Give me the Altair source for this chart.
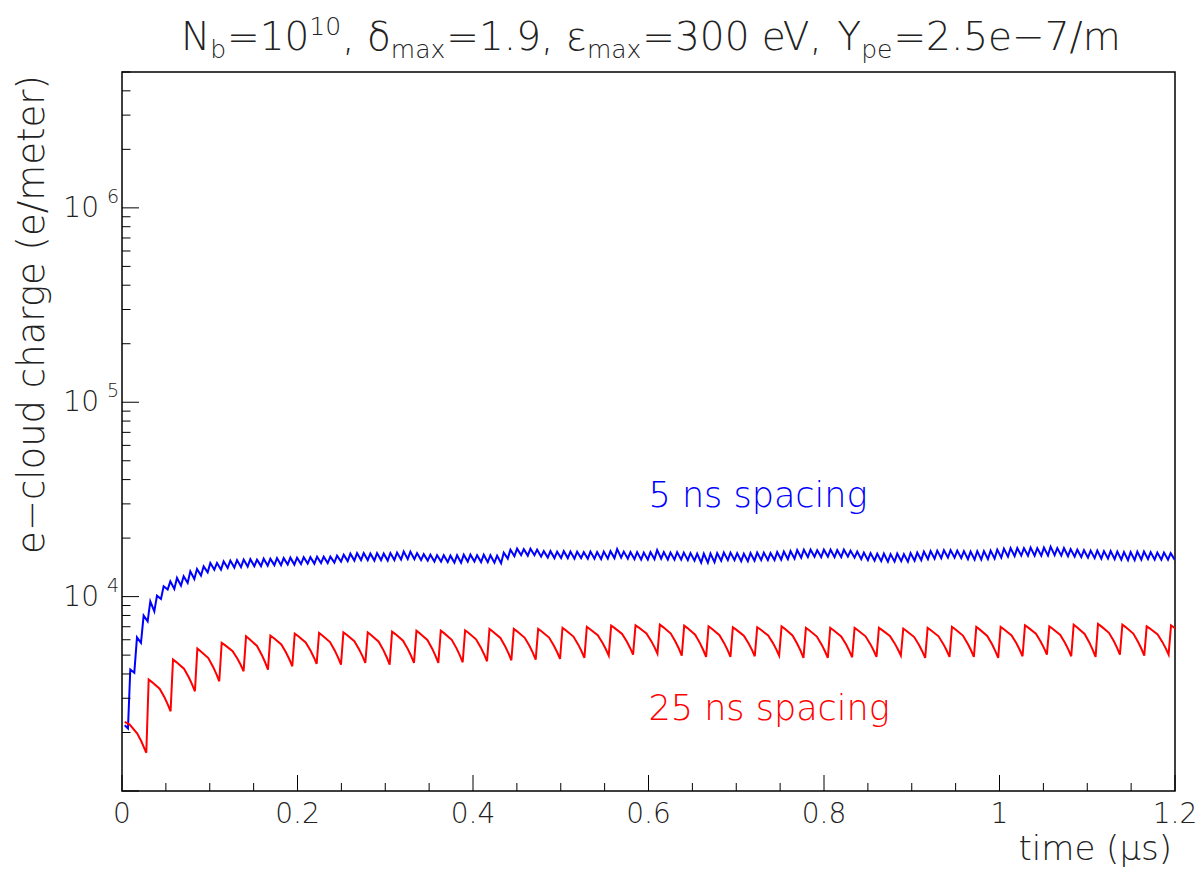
import math
import altair as alt
import pandas as pd

# ---------------- data ----------------
X_DOMAIN = [0.0, 1.2]
Y_DOMAIN = [1e3, 5e6]

# 25 ns spacing (red): decay before first bunch, then one tooth per bunch
RED_START_T = [0.0031, 0.0088, 0.0174, 0.0220, 0.0277]
RED_START_V = [2269, 2197, 1975, 1803, 1572]
RED_T0 = 0.0304        # time of first bunch (us)
RED_PERIOD = 0.02774   # bunch period as drawn (us)
RED_PEAK = [3743, 4745, 5402, 5781, 6249, 6301, 6452, 6506, 6551, 6551, 6607,
            6687, 6687, 6710, 6822, 6822, 6822, 6904, 6986, 7094, 7119, 7178,
            7094, 7035, 6954, 6954, 7035, 6904, 6904, 6904, 6904, 6847, 6904,
            6986, 6986, 6986, 7119, 7035, 7178, 7238, 7178, 7035, 7119]
RED_BOTTOM = [2572, 3259, 3668, 4130, 4214, 4382, 4508, 4471, 4561, 4471, 4561,
              4561, 4594, 4650, 4705, 4745, 4784, 4841, 4975, 5034, 5093, 4975,
              4898, 4898, 4934, 4975, 4841, 4841, 4875, 4898, 4975, 4841, 4898,
              4898, 4841, 4934, 5034, 4934, 4898, 5034, 4975, 5034, 4975]
# shape of one tooth (fraction of decay time, fraction of log drop)
TOOTH_T = [0.0, 0.15, 0.5, 0.72, 0.87, 1.0]
TOOTH_F = [0.0, 0.08, 0.29, 0.56, 0.78, 1.0]
TOOTH_DECAY = 0.9      # part of the period spent decaying

# 5 ns spacing (blue)
BLUE_START_T = [0.0031, 0.0068]
BLUE_START_V = [2179, 2096]
BLUE_T0 = 0.00946
BLUE_PERIOD = 0.0076
BLUE_TROUGH_AT = 0.6
BLUE_PEAK = [4214, 6175, 7987, 9458, 10118, 11298, 11987, 12478, 12719, 13494, 13881, 14316, 14906, 14906, 15190,
             15320, 15410, 15500, 15590, 15500, 15680, 15680, 15780, 15780, 15870, 15870, 15960, 15960, 16060, 16060,
             16060, 16250, 16440, 16640, 16740, 16740, 16640, 16740, 16640, 16740, 16840, 17040, 17040, 16740, 16540,
             16440, 16340, 16340, 16250, 16340, 16440, 16440, 16340, 16440, 16340, 16250, 16840, 17440, 17650, 17550,
             17650, 17440, 17140, 17140, 17040, 17140, 17040, 17040, 16940, 17040, 16940, 17040, 17140, 17550, 17040,
             16940, 16940, 16840, 16940, 17340, 16940, 16840, 16940, 16840, 16740, 16640, 16640, 16640, 16740, 16840,
             16840, 16740, 16640, 16740, 16840, 16840, 16740, 16940, 17040, 17140, 17340, 17440, 17440, 17340, 17440,
             17440, 17340, 17440, 17240, 17040, 16840, 16740, 16640, 16640, 16540, 16640, 16540, 16740, 16840, 17040,
             17140, 17240, 17340, 17340, 17240, 17140, 17040, 17140, 17140, 17240, 17440, 17650, 17760, 17760, 17760,
             17860, 17760, 17860, 18070, 17760, 17760, 17550, 17440, 17340, 17240, 17240, 17140, 17140, 17040, 16940,
             16940, 17040, 17040, 16940, 16840, 16840, 16740]
BLUE_TROUGH = [4053, 5781, 7464, 8404, 9732, 10864, 10955, 11390, 11760, 12331, 12823, 13333, 13766, 13766, 14050,
               14100, 14180, 14270, 14350, 14350, 14430, 14520, 14520, 14610, 14610, 14700, 14780, 14780, 14870, 14870,
               14960, 15140, 15230, 15320, 15410, 15410, 15320, 15410, 15320, 15410, 15500, 15590, 15590, 15410, 15320,
               15140, 15140, 15050, 14960, 14960, 15140, 15140, 15050, 15050, 14960, 14870, 15680, 16150, 16340, 16250,
               16340, 16060, 15870, 15780, 15780, 15780, 15680, 15780, 15680, 15680, 15590, 15680, 15780, 15870, 15680,
               15590, 15500, 15500, 15590, 15680, 15500, 15500, 15500, 15410, 15320, 14960, 14960, 15050, 15320, 15410,
               15410, 15230, 15230, 15320, 15410, 15410, 15410, 15500, 15590, 15680, 15870, 15960, 16060, 15960, 16060,
               15960, 15960, 16060, 15870, 15590, 15410, 15320, 15230, 15140, 15140, 15230, 15140, 15320, 15410, 15590,
               15680, 15780, 15870, 15870, 15780, 15590, 15500, 15500, 15590, 15680, 15870, 16060, 16150, 16250, 16250,
               16250, 16250, 16250, 16340, 16250, 16150, 16060, 15960, 15870, 15780, 15680, 15680, 15590, 15500, 15410,
               15410, 15500, 15590, 15500, 15500, 15500, 15500]

X_MAJOR = [0, 0.2, 0.4, 0.6, 0.8, 1.0, 1.2]
X_LABELS = ["0", "0.2", "0.4", "0.6", "0.8", "1", "1.2"]
X_MINOR = [0.05, 0.1, 0.15, 0.25, 0.3, 0.35, 0.45, 0.5, 0.55, 0.65, 0.7, 0.75,
           0.85, 0.9, 0.95, 1.05, 1.1, 1.15]
Y_MAJOR = [1e3, 1e4, 1e5, 1e6]
Y_LABELED = [1e4, 1e5, 1e6]
Y_EXPONENTS = ["4", "5", "6"]
Y_MINOR = [m * 10 ** d for d in (3, 4, 5, 6) for m in range(2, 10) if m * 10 ** d <= 5e6]

ANNOT_TEXT = ["5 ns spacing", "25 ns spacing"]
ANNOT_T = [0.6, 0.6]
ANNOT_V = [2.9e4, 2.33e3]
ANNOT_COLOR = ["#0000ff", "#ff0000"]

TITLE_PARTS = [("N", "main"), ("b", "sub"), ("=10", "main"), ("10", "sup"), (", ", "main"),
               ("\u03b4", "main"), ("max", "sub"), ("=1.9, ", "main"),
               ("\u03b5", "main"), ("max", "sub"), ("=300 eV, ", "main"),
               ("Y", "main"), ("pe", "sub"), ("=2.5e\u22127/m", "main")]

# ---------------- build tables ----------------
red_rows = [{"t": t, "v": v} for t, v in zip(RED_START_T, RED_START_V)]
for k, (pk, bt) in enumerate(zip(RED_PEAK, RED_BOTTOM)):
    tp = RED_T0 + k * RED_PERIOD
    lp, lb = math.log10(pk), math.log10(bt)
    for ft, ff in zip(TOOTH_T, TOOTH_F):
        red_rows.append({"t": tp + ft * TOOTH_DECAY * RED_PERIOD,
                         "v": 10 ** (lp + ff * (lb - lp))})
red = pd.DataFrame(red_rows)

blue_rows = [{"t": t, "v": v} for t, v in zip(BLUE_START_T, BLUE_START_V)]
for n, (pk, tr) in enumerate(zip(BLUE_PEAK, BLUE_TROUGH)):
    tp = BLUE_T0 + n * BLUE_PERIOD
    blue_rows.append({"t": tp, "v": pk})
    blue_rows.append({"t": tp + BLUE_TROUGH_AT * BLUE_PERIOD, "v": tr})
blue = pd.DataFrame(blue_rows)

# ---------------- layout ----------------
W, H = 1053, 719
LEFT, TOP = 122, 72
FONT = "DejaVu Sans"
TXT = "#222222"
xs = alt.Scale(domain=X_DOMAIN, nice=False, zero=False)
ys = alt.Scale(type="log", domain=Y_DOMAIN, nice=False)


def X(field):
    return alt.X(field, type="quantitative", scale=xs, axis=None)


def Y(field):
    return alt.Y(field, type="quantitative", scale=ys, axis=None)


layers = []
layers.append(alt.Chart(blue).mark_line(color="#0000ff", strokeWidth=2, clip=True)
              .encode(x=X("t"), y=Y("v")))
layers.append(alt.Chart(red).mark_line(color="#ff0000", strokeWidth=2, clip=True)
              .encode(x=X("t"), y=Y("v")))

# inward ticks
layers.append(alt.Chart(pd.DataFrame({"tx": X_MAJOR})).mark_rule(color="black", strokeWidth=1)
              .encode(x=X("tx"), y=alt.value(H), y2=alt.value(H - 16)))
layers.append(alt.Chart(pd.DataFrame({"tx": X_MINOR})).mark_rule(color="black", strokeWidth=1)
              .encode(x=X("tx"), y=alt.value(H), y2=alt.value(H - 8)))
layers.append(alt.Chart(pd.DataFrame({"ty": Y_MAJOR})).mark_rule(color="black", strokeWidth=1)
              .encode(y=Y("ty"), x=alt.value(0), x2=alt.value(17)))
layers.append(alt.Chart(pd.DataFrame({"ty": Y_MINOR})).mark_rule(color="black", strokeWidth=1)
              .encode(y=Y("ty"), x=alt.value(0), x2=alt.value(8.5)))

# tick labels
layers.append(alt.Chart(pd.DataFrame({"tx": X_MAJOR, "lab": X_LABELS}))
              .mark_text(font=FONT, fontSize=28, fontWeight=200, color=TXT, align="center",
                         baseline="alphabetic")
              .encode(x=X("tx"), y=alt.value(H + 32), text="lab:N"))
layers.append(alt.Chart(pd.DataFrame({"ty": Y_LABELED}))
              .mark_text(font=FONT, fontSize=28, fontWeight=200, color=TXT, align="right",
                         baseline="middle", dy=1)
              .encode(y=Y("ty"), x=alt.value(-23), text=alt.value("10")))
layers.append(alt.Chart(pd.DataFrame({"ty": Y_LABELED, "e": Y_EXPONENTS}))
              .mark_text(font=FONT, fontSize=19, fontWeight=200, color=TXT, align="left",
                         baseline="alphabetic", dy=-5)
              .encode(y=Y("ty"), x=alt.value(-15), text="e:N"))

one = pd.DataFrame({"a": [0]})
# axis titles
layers.append(alt.Chart(one).mark_text(text="time (\u03bcs)", font=FONT, fontSize=34, fontWeight=200,
                                       color=TXT, align="right", baseline="alphabetic")
              .encode(x=alt.value(W - 3), y=alt.value(H + 69)))
layers.append(alt.Chart(one).mark_text(text="e\u2212cloud charge (e/meter)", font=FONT, fontSize=37,
                                       fontWeight=200, color=TXT, align="right", baseline="middle",
                                       angle=270)
              .encode(x=alt.value(-89), y=alt.value(3)))

# title laid out piece by piece (approximate DejaVu Sans advance widths, in em)
GLYPH_EM = {"N": .748, "b": .635, "=": .838, ",": .318, " ": .318, ".": .318,
            "\u03b4": .612, "m": .974, "a": .613, "x": .592, "\u03b5": .541, "e": .615,
            "V": .684, "Y": .611, "p": .635, "\u2212": .838, "/": .337}
STYLE = {"main": (39, 0), "sub": (25, 8), "sup": (25, -15)}
TITLE_BASELINE = 50
cursor = 181
for txt, kind in TITLE_PARTS:
    size, shift = STYLE[kind]
    layers.append(alt.Chart(one).mark_text(text=txt, font=FONT, fontSize=size, fontWeight=200,
                                           color=TXT, align="left", baseline="alphabetic")
                  .encode(x=alt.value(cursor - LEFT), y=alt.value(TITLE_BASELINE + shift - TOP)))
    cursor += sum(GLYPH_EM.get(ch, .636) for ch in txt) * size + (1 if kind != "main" else 0)

# annotations
ann = pd.DataFrame({"t": ANNOT_T, "v": ANNOT_V, "txt": ANNOT_TEXT, "c": ANNOT_COLOR})
layers.append(alt.Chart(ann).mark_text(font=FONT, fontSize=35, fontWeight=200, align="left",
                                       baseline="alphabetic")
              .encode(x=X("t"), y=Y("v"), text="txt:N",
                      color=alt.Color("c:N", scale=None, legend=None)))

chart = (alt.layer(*layers)
         .properties(width=W, height=H,
                     autosize=alt.AutoSizeParams(type="none"),
                     padding={"left": LEFT, "top": TOP, "right": 24, "bottom": 79},
                     background="white")
         .configure_view(stroke="black", strokeWidth=1.5))

chart.save("out.html", embed_options={"renderer": "svg", "actions": False})
